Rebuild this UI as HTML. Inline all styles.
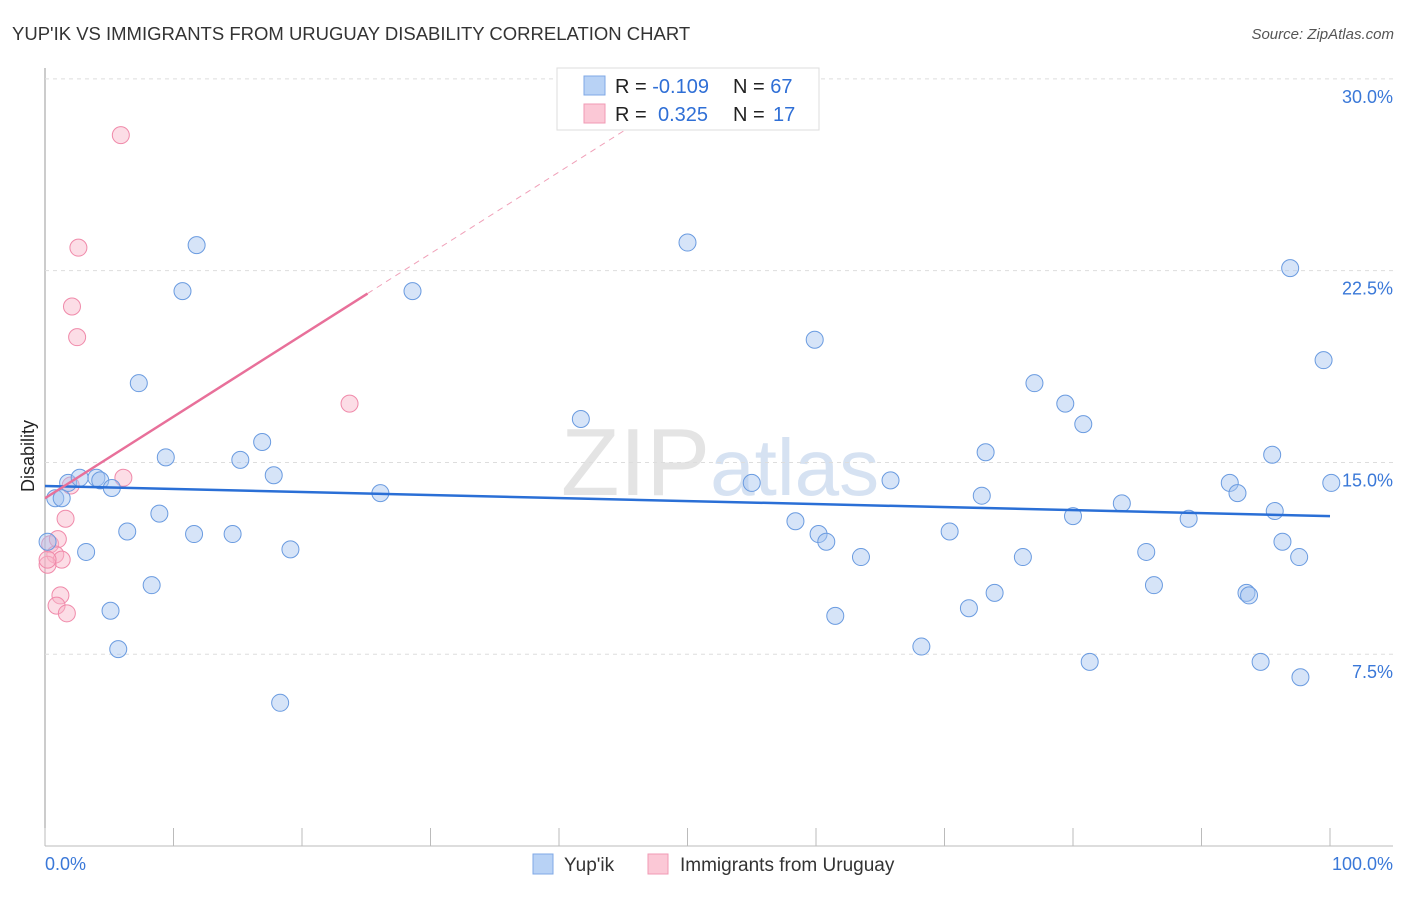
<!DOCTYPE html>
<html><head><meta charset="utf-8"><style>
body{margin:0;background:#fff;font-family:"Liberation Sans",sans-serif;}
svg text{font-family:"Liberation Sans",sans-serif;}
</style></head><body>
<svg id="c" width="1406" height="892">
<text x="12" y="40" font-size="18.5" fill="#333">YUP'IK VS IMMIGRANTS FROM URUGUAY DISABILITY CORRELATION CHART</text>
<text x="1394" y="39" font-size="15" fill="#555" font-style="italic" text-anchor="end">Source: ZipAtlas.com</text>
<text x="0" y="0" font-size="18" fill="#222" transform="translate(34,456) rotate(-90)" text-anchor="middle">Disability</text>
<text x="720" y="495" font-size="96" fill="#e4e4e4" text-anchor="middle" font-family="Liberation Serif">ZIP<tspan fill="#d6e2f2" font-family="Liberation Sans" font-size="80">atlas</tspan></text>
<g id="grid"></g><g id="pts"></g><g id="lines"></g>
<g>
<rect x="557" y="68" width="262" height="62" fill="#fff" stroke="#ddd"/>
<rect x="584" y="76" width="21" height="19" fill="#b8d2f5" stroke="#7fa8e6"/>
<rect x="584" y="104" width="21" height="19" fill="#fbc8d6" stroke="#f09ab4"/>
<text x="615" y="93" font-size="20" fill="#222">R = <tspan fill="#2f6fd6">-0.109</tspan><tspan x="733">N = </tspan><tspan fill="#2f6fd6">67</tspan></text>
<text x="615" y="121" font-size="20" fill="#222">R = <tspan fill="#2f6fd6" x="658">0.325</tspan><tspan x="733">N = </tspan><tspan fill="#2f6fd6" x="773">17</tspan></text>
</g>
<g>
<rect x="533" y="854" width="20" height="20" fill="#b8d2f5" stroke="#7fa8e6"/>
<text x="564" y="871" font-size="19" fill="#333">Yup'ik</text>
<rect x="648" y="854" width="20" height="20" fill="#fbc8d6" stroke="#f09ab4"/>
<text x="680" y="871" font-size="19" fill="#333">Immigrants from Uruguay</text>
</g>
<text x="45" y="870" font-size="18" fill="#3a78d8">0.0%</text>
<text x="1393" y="870" font-size="18" fill="#3a78d8" text-anchor="end">100.0%</text>
</svg>
<script>
const yTicks=[7.5,15,22.5,30];
const xTicks=[0,10,20,30,40,50,60,70,80,90,100];
const blueX=[0.8,1.3,1.8,2.7,4.0,4.3,5.2,0.2,3.2,5.1,5.7,6.4,7.3,8.3,8.9,9.4,10.7,11.6,11.8,14.6,15.2,16.9,17.8,18.3,19.1,26.1,28.6,41.7,50.0,55.0,58.4,59.9,60.2,60.8,61.5,63.5,65.8,68.2,70.4,71.9,72.9,73.2,73.9,76.1,77.0,79.4,80.0,80.8,81.3,83.8,85.7,86.3,89.0,92.2,92.8,93.5,93.7,94.6,95.5,95.7,96.3,96.9,97.6,97.7,99.5,100.1];
const blueY=[13.6,13.6,14.2,14.4,14.4,14.3,14.0,11.9,11.5,9.2,7.7,12.3,18.1,10.2,13.0,15.2,21.7,12.2,23.5,12.2,15.1,15.8,14.5,5.6,11.6,13.8,21.7,16.7,23.6,14.2,12.7,19.8,12.2,11.9,9.0,11.3,14.3,7.8,12.3,9.3,13.7,15.4,9.9,11.3,18.1,17.3,12.9,16.5,7.2,13.4,11.5,10.2,12.8,14.2,13.8,9.9,9.8,7.2,15.3,13.1,11.9,22.6,11.3,6.6,19.0,14.2];
const pinkX=[5.9,2.6,2.1,2.5,23.7,6.1,2.0,1.6,0.4,1.0,0.8,1.3,0.2,1.2,0.9,1.7,0.2];
const pinkY=[27.8,23.4,21.1,19.9,17.3,14.4,14.1,12.8,11.8,12.0,11.4,11.2,11.0,9.8,9.4,9.1,11.2];
const blueTrend=[14.08,12.9];
const pinkTrend=[13.6,0.319];
const X=v=>45+v*12.85, Y=v=>846-v*25.57;
const NS='http://www.w3.org/2000/svg';
function mk(t,a,p){const e=document.createElementNS(NS,t);for(const k in a)e.setAttribute(k,a[k]);p.appendChild(e);return e;}
const g=document.getElementById('grid');
const ax1=mk('line',{x1:45,y1:68,x2:45,y2:846,stroke:'#999'},g);


const ax2=mk('line',{x1:45,y1:846,x2:1393,y2:846,stroke:'#bbb'},g);


yTicks.forEach(v=>{
 const l=mk('line',{x1:45,x2:1393,y1:Y(v),y2:Y(v),stroke:'#ddd','stroke-dasharray':'4,4'},g);
 
 
 const t=mk('text',{x:1393,y:Y(v)+24,'font-size':18,fill:'#3a78d8','text-anchor':'end'},g);
 t.textContent=v.toFixed(1)+'%';
 
 
});
xTicks.forEach(v=>{
 const l=mk('line',{x1:X(v),x2:X(v),y1:828,y2:846,stroke:'#bbb'},g);
 
 
});
const p=document.getElementById('pts');
pinkX.forEach((x,i)=>{
 const c=mk('circle',{cx:X(x),cy:Y(pinkY[i]),r:8.5,fill:'rgba(248,180,200,0.45)',stroke:'#f08aaa','stroke-width':1},p);
 
 
});
blueX.forEach((x,i)=>{
 const c=mk('circle',{cx:X(x),cy:Y(blueY[i]),r:8.5,fill:'rgba(164,196,240,0.45)',stroke:'#6a9be0','stroke-width':1},p);
 
 
});
const L=document.getElementById('lines');
const bl=mk('line',{x1:X(0),y1:Y(blueTrend[0]),x2:X(100),y2:Y(blueTrend[1]),stroke:'#2a6fd6','stroke-width':2.5},L);


const pl=mk('line',{x1:X(0),y1:Y(pinkTrend[0]),x2:X(25.1),y2:Y(pinkTrend[0]+pinkTrend[1]*25.1),stroke:'#e8709a','stroke-width':2.5},L);


const pd=mk('line',{x1:X(25.1),y1:Y(pinkTrend[0]+pinkTrend[1]*25.1),x2:X(47),y2:Y(pinkTrend[0]+pinkTrend[1]*47),stroke:'#f0a0b8','stroke-width':1,'stroke-dasharray':'6,5'},L);


</script>
</body></html>
